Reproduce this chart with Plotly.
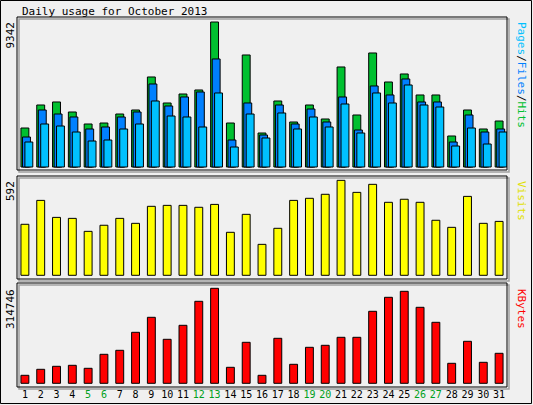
import plotly.graph_objects as go

days = list(range(1, 32))
weekend_days = [5, 6, 12, 13, 19, 20, 26, 27]
hits = [2513, 3995, 4189, 3544, 2771, 2835, 3415, 3673, 5800, 4124, 4704, 4962, 9342, 2835, 7217, 2191,
        4253, 2900, 3995, 3093, 6444, 3351, 7346, 5477, 5993, 4640, 4640, 1998, 3673, 2449, 2964]
files = [1933, 3673, 3415, 3222, 2449, 2578, 3222, 3544, 5348, 3931, 4511, 4833, 6960, 1740, 4124, 2062,
         3995, 2771, 3737, 2900, 4511, 2384, 5220, 4640, 5671, 4189, 4189, 1611, 3351, 2255, 2449]
pages = [1611, 2771, 2642, 2255, 1675, 1740, 2449, 2771, 4253, 3286, 3222, 2578, 4769, 1289, 3415, 1869,
         3480, 2449, 3222, 2578, 4060, 2191, 4769, 4124, 5284, 3995, 3866, 1353, 2513, 1482, 2255]
visits = [318, 467, 361, 355, 274, 312, 355, 324, 430, 436, 436, 424, 442, 268, 380, 193,
          293, 467, 480, 505, 592, 517, 567, 455, 474, 455, 343, 299, 492, 324, 336]
kbytes = [26506, 46385, 56324, 59638, 49698, 96083, 109336, 168973, 218671, 145781, 192166, 271682, 314746,
          53011, 135841, 26506, 149094, 62950, 119275, 125902, 152407, 152407, 238550, 284935, 304814,
          251803, 202105, 66264, 139154, 69577, 99396]

W, H = 533, 405
FONT = "DejaVu Sans Mono"
BG = "#f0f0f0"
line = dict(color="black", width=1)

fig = go.Figure()
fig.add_bar(x=days, y=hits, width=0.5, offset=-0.25, marker=dict(color="#00C030", line=line), xaxis="x", yaxis="y")
fig.add_bar(x=days, y=files, width=0.5, offset=-0.15, marker=dict(color="#0080FF", line=line), xaxis="x", yaxis="y")
fig.add_bar(x=days, y=pages, width=0.5, offset=0.0, marker=dict(color="#00C0FF", line=line), xaxis="x", yaxis="y")
fig.add_bar(x=days, y=visits, width=0.5, offset=-0.25, marker=dict(color="#FFFF00", line=line), xaxis="x2", yaxis="y2")
fig.add_bar(x=days, y=kbytes, width=0.5, offset=-0.25, marker=dict(color="#FF0000", line=line), xaxis="x3", yaxis="y3")

xd = [17 / W, 507 / W]
def ydom(top, bot):
    return [1 - bot / H, 1 - top / H]

ticktext = [f"<span style='color:#00A020'>{d}</span>" if d in weekend_days else str(d) for d in days]
common_x = dict(range=[0.5, 31.5], domain=xd, showgrid=False, zeroline=False, fixedrange=True, showline=False)
fig.update_layout(
    width=W, height=H, margin=dict(l=0, r=0, t=0, b=0, autoexpand=False),
    paper_bgcolor=BG, plot_bgcolor=BG, showlegend=False, barmode="overlay",
    font=dict(family=FONT, size=11, color="black"),
    xaxis=dict(**common_x, anchor="y", showticklabels=False, ticks=""),
    xaxis2=dict(**common_x, anchor="y2", showticklabels=False, ticks=""),
    xaxis3=dict(**common_x, anchor="y3", tickvals=days, ticktext=ticktext, ticks="", automargin=False,
                tickfont=dict(size=10, family=FONT)),
    yaxis=dict(domain=ydom(17, 170), range=[-193, 9664], visible=False),
    yaxis2=dict(domain=ydom(176, 279), range=[-23, 619], visible=False),
    yaxis3=dict(domain=ydom(283, 387), range=[-12260, 332300], visible=False),
)

shapes = []
shapes.append(dict(type="rect", xref="paper", yref="paper", x0=0.5 / W, x1=1 - 1.5 / W, y0=1.5 / H, y1=1 - 0.5 / H,
                   line=dict(color="black", width=1)))
for top, bot in [(17, 170), (176, 279), (283, 387)]:
    y0, y1 = ydom(top, bot)
    shapes.append(dict(type="rect", xref="paper", yref="paper", x0=xd[0] + 2 / W, x1=xd[1] + 2 / W,
                       y0=y0 - 2 / H, y1=y1 - 2 / H, line=dict(color="#a0a0a0", width=1.5), layer="below"))
    shapes.append(dict(type="rect", xref="paper", yref="paper", x0=xd[0], x1=xd[1], y0=y0, y1=y1,
                       line=dict(color="black", width=1), layer="above"))
fig.update_layout(shapes=shapes)

ann = []
ann.append(dict(text="Daily usage for October 2013", x=20 / W, y=1 - 3 / H, xref="paper", yref="paper",
                xanchor="left", yanchor="top", showarrow=False, font=dict(size=11, family=FONT)))
for label, top in [(f"{max(hits)}", 20), (f"{max(visits)}", 179), (f"{max(kbytes)}", 287)]:
    ann.append(dict(text=label, textangle=-90, x=10 / W, y=1 - top / H, xref="paper", yref="paper",
                    xanchor="center", yanchor="top", showarrow=False, font=dict(size=11, family=FONT)))
ann.append(dict(text="<span style='color:#00C0FF'>Pages</span>/<span style='color:#0080FF'>Files</span>/<span style='color:#00C030'>Hits</span>",
                textangle=90, x=522 / W, y=1 - 20 / H, xref="paper", yref="paper", xanchor="center", yanchor="top",
                showarrow=False, font=dict(size=11, family=FONT, color="black")))
ann.append(dict(text="<span style='color:#E0E000'>Visits</span>", textangle=90, x=522 / W, y=1 - 179 / H,
                xref="paper", yref="paper", xanchor="center", yanchor="top", showarrow=False, font=dict(size=11, family=FONT)))
ann.append(dict(text="<span style='color:#FF0000'>KBytes</span>", textangle=90, x=522 / W, y=1 - 287 / H,
                xref="paper", yref="paper", xanchor="center", yanchor="top", showarrow=False, font=dict(size=11, family=FONT)))
fig.update_layout(annotations=ann)

fig.write_html("out.html", config={"displayModeBar": False})
with open("out.html", encoding="utf-8") as f:
    html = f.read()
html = html.replace("<head>", "<head><style>html,body{margin:0;padding:0;overflow:hidden;}</style>", 1)
with open("out.html", "w", encoding="utf-8") as f:
    f.write(html)
